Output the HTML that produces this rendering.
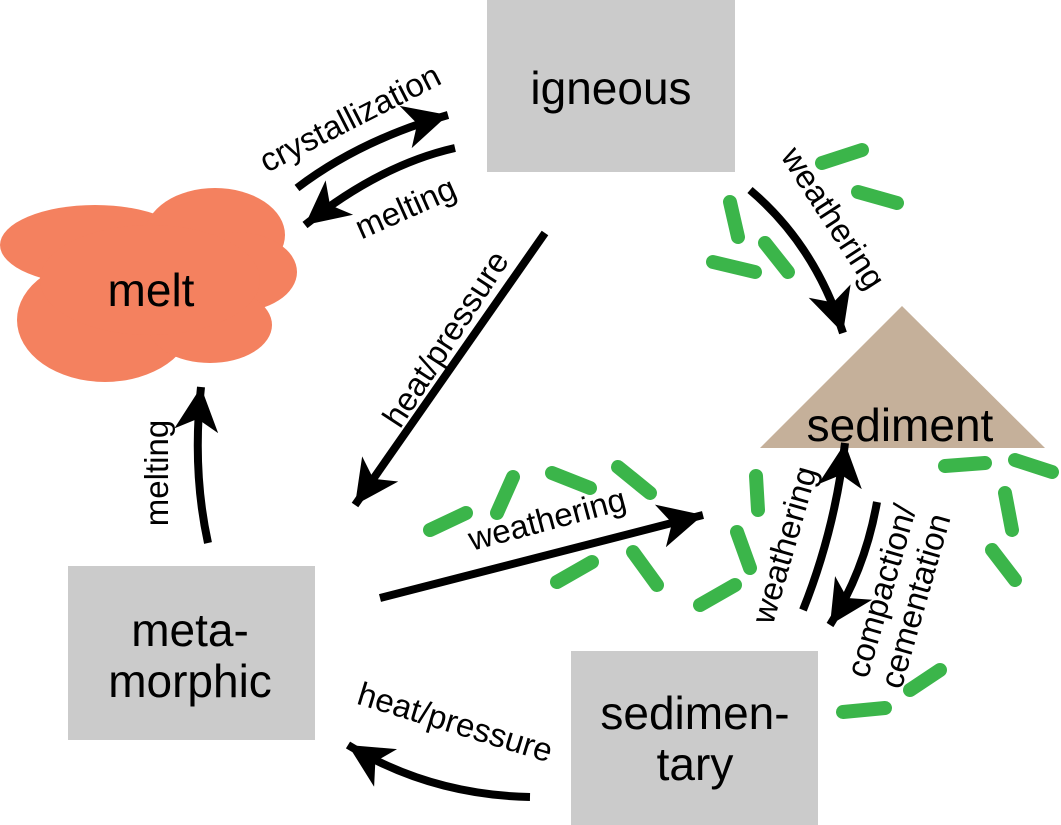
<!DOCTYPE html>
<html><head><meta charset="utf-8"><style>
html,body{margin:0;padding:0;background:#fff;}
svg{display:block;}
text{font-family:"Liberation Sans",sans-serif;fill:#000;}
</style></head><body>
<svg width="1061" height="825" viewBox="0 0 1061 825" xmlns="http://www.w3.org/2000/svg">
<defs>
<marker id="ah" markerUnits="userSpaceOnUse" markerWidth="60" markerHeight="60" refX="44" refY="25" orient="auto">
<path d="M44,25 L0,3 L12,25 L0,47 Z" fill="#000"/>
</marker>
</defs>
<rect x="487" y="0" width="248" height="172" fill="#cbcbcb"/>
<rect x="68" y="566" width="247" height="174" fill="#cbcbcb"/>
<rect x="571" y="651" width="247" height="174" fill="#cbcbcb"/>
<polygon points="902,306 760,448 1045,448" fill="#c5b09a"/>
<g fill="#f4815f">
<ellipse cx="95" cy="245" rx="95" ry="40"/>
<ellipse cx="215" cy="235" rx="70" ry="47"/>
<ellipse cx="235" cy="272" rx="62" ry="40"/>
<ellipse cx="105" cy="320" rx="88" ry="62"/>
<ellipse cx="210" cy="325" rx="62" ry="38"/>
<ellipse cx="150" cy="280" rx="110" ry="55"/>
</g>
<g font-size="46" text-anchor="middle">
<text x="611" y="104">igneous</text>
<text x="151" y="306">melt</text>
<text x="190" y="646">meta-</text>
<text x="190" y="697">morphic</text>
<text x="695" y="729">sedimen-</text>
<text x="695" y="780">tary</text>
<text x="900" y="441">sediment</text>
</g>
<g fill="none" stroke="#000" stroke-width="8">
<path d="M297,188 Q360,140 448,115" marker-end="url(#ah)"/>
<path d="M455,148 Q380,165 305,225" marker-end="url(#ah)"/>
<path d="M545,233 L355,505" marker-end="url(#ah)"/>
<path d="M380,598 L703,515" marker-end="url(#ah)"/>
<path d="M208,543 Q192,470 201,387" marker-end="url(#ah)"/>
<path d="M530,797 Q430,795 348,745" marker-end="url(#ah)"/>
<path d="M750,190 Q815,245 843,333" marker-end="url(#ah)"/>
<path d="M803,610 Q835,530 845,443" marker-end="url(#ah)"/>
<path d="M877,502 Q865,570 830,625" marker-end="url(#ah)"/>
</g>
<g stroke="#3bb54a" stroke-width="14" stroke-linecap="round" fill="none">
<path d="M822,163 L862,150"/>
<path d="M858,192 L897,203"/>
<path d="M730,202 L738,237"/>
<path d="M713,262 L755,272"/>
<path d="M765,243 L788,272"/>
<path d="M945,466 L985,463"/>
<path d="M1015,460 L1052,472"/>
<path d="M1005,493 L1012,530"/>
<path d="M992,550 L1015,580"/>
<path d="M910,690 L940,670"/>
<path d="M843,712 L885,708"/>
<path d="M756,476 L758,510"/>
<path d="M737,532 L750,568"/>
<path d="M700,605 L735,585"/>
<path d="M430,530 L466,513"/>
<path d="M513,477 L497,513"/>
<path d="M552,473 L590,488"/>
<path d="M618,467 L650,493"/>
<path d="M557,582 L592,562"/>
<path d="M633,552 L657,585"/>
</g>
<g font-size="33" text-anchor="middle">
<text transform="translate(355,128) rotate(-27)">crystallization</text>
<text transform="translate(410,218) rotate(-24)">melting</text>
<text transform="translate(455,345) rotate(-57)">heat/pressure</text>
<text transform="translate(550,530) rotate(-15)">weathering</text>
<text transform="translate(168,473) rotate(-90)">melting</text>
<text transform="translate(452,733) rotate(17)">heat/pressure</text>
<text transform="translate(824,224) rotate(57)">weathering</text>
<text transform="translate(795,548) rotate(-74)">weathering</text>
<text transform="translate(892,594) rotate(-74)">compaction/</text>
<text transform="translate(926,604) rotate(-74)">cementation</text>
</g>
</svg>
</body></html>
